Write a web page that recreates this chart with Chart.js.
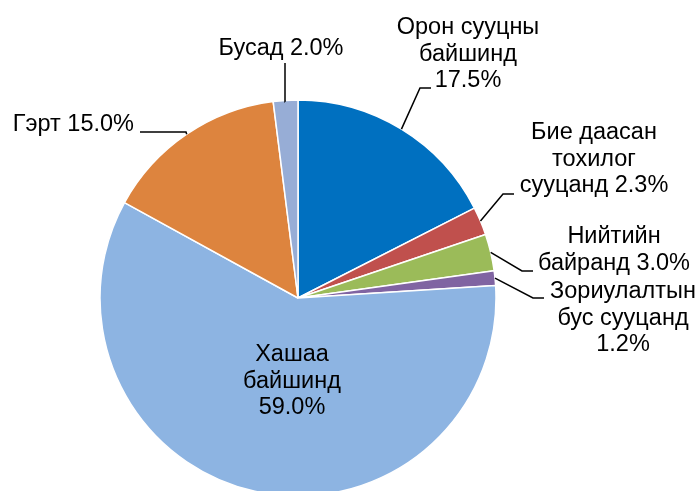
<!DOCTYPE html>
<html>
<head>
<meta charset="utf-8">
<script src="https://cdn.jsdelivr.net/npm/chart.js@4"></script>
<style>
  html, body { margin: 0; padding: 0; background: #fff; }
  #wrap { width: 700px; height: 491px; position: relative; }
</style>
</head>
<body>
<div id="wrap"><canvas id="chartVivienda"></canvas></div>
<script>
// data
const categorias = [
    ["Орон сууцны", "байшинд"],
    ["Бие даасан", "тохилог", "сууцанд"],
    ["Нийтийн", "байранд"],
    ["Зориулалтын", "бус сууцанд"],
    ["Хашаа", "байшинд"],
    ["Гэрт"],
    ["Бусад"]
];
const porcentajes = [17.5, 2.3, 3.0, 1.2, 59.0, 15.0, 2.0];
const colores = ["#0070C0", "#C0504D", "#9BBB59", "#8064A2", "#8DB4E2", "#DD843E", "#97ADD6"];

// label layout: text lines ({v} = value), anchor x, first-line y, leader elbow + end
const etiquetas = [
    { lineas: ["Орон сууцны", "байшинд", "{v}"], x: 468, y: 28, align: "center", codo: [420, 88], fin: [431, 88] },
    { lineas: ["Бие даасан", "тохилог", "сууцанд {v}"], x: 594, y: 133, align: "center", codo: [503, 194], fin: [514, 194] },
    { lineas: ["Нийтийн", "байранд {v}"], x: 614, y: 237, align: "center", codo: [522, 271], fin: [533, 271] },
    { lineas: ["Зориулалтын", "бус сууцанд", "{v}"], x: 623, y: 292, align: "center", codo: [533, 298], fin: [544, 298] },
    { lineas: ["Хашаа", "байшинд", "{v}"], x: 292, y: 355, align: "center", codo: null, fin: null },
    { lineas: ["Гэрт {v}"], x: 134, y: 125, align: "right", codo: [186, 132], fin: [140, 132] },
    { lineas: ["Бусад {v}"], x: 281, y: 49, align: "center", codo: [285, 101], fin: [285, 63] }
];

const fuente = "23.5px 'Liberation Sans', Arial, sans-serif";
const interlineado = 26.5;

const etiquetasPlugin = {
    id: "etiquetasPie",
    afterDraw(chart) {
        const ctx = chart.ctx;
        const arcs = chart.getDatasetMeta(0).data;
        ctx.save();
        ctx.font = fuente;
        ctx.fillStyle = "#000";
        ctx.strokeStyle = "#000";
        ctx.lineWidth = 1.5;
        ctx.textBaseline = "middle";

        etiquetas.forEach((et, i) => {
            const valor = porcentajes[i].toFixed(1) + "%";
            if (et.codo) {
                const arc = arcs[i];
                const p = arc.getProps(["x", "y", "startAngle", "endAngle", "outerRadius"], true);
                const ang = (p.startAngle + p.endAngle) / 2;
                const sx = p.x + Math.cos(ang) * p.outerRadius;
                const sy = p.y + Math.sin(ang) * p.outerRadius;
                ctx.beginPath();
                ctx.moveTo(sx, sy);
                ctx.lineTo(et.codo[0], et.codo[1]);
                ctx.lineTo(et.fin[0], et.fin[1]);
                ctx.stroke();
            }
            ctx.textAlign = et.align;
            et.lineas.forEach((linea, j) => {
                ctx.fillText(linea.replace("{v}", valor), et.x, et.y + j * interlineado);
            });
        });
        ctx.restore();
    }
};

document.addEventListener("DOMContentLoaded", () => {
    const ctx = document.getElementById("chartVivienda");

    new Chart(ctx, {
        type: "pie",
        data: {
            labels: categorias.map(c => c.join(" ")),
            datasets: [{
                data: porcentajes,
                backgroundColor: colores,
                borderColor: "#ffffff",
                borderWidth: 1.5
            }]
        },
        options: {
            responsive: true,
            maintainAspectRatio: false,
            animation: false,
            radius: 198,
            layout: {
                padding: { left: 0, right: 104, top: 105, bottom: 0 }
            },
            plugins: {
                legend: { display: false },
                tooltip: { enabled: false }
            }
        },
        plugins: [etiquetasPlugin]
    });
});
</script>
</body>
</html>
